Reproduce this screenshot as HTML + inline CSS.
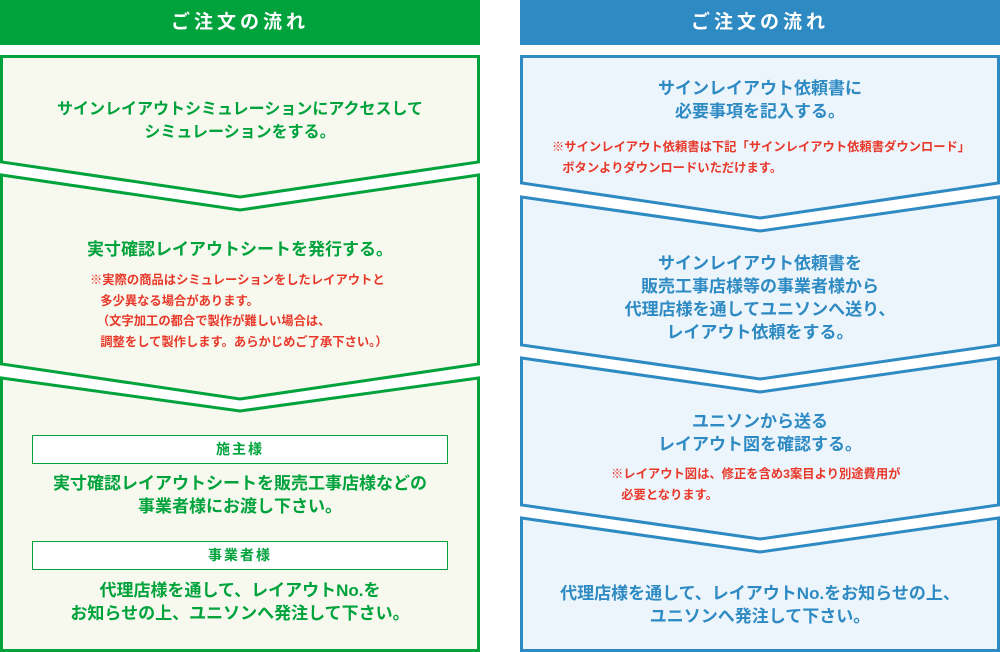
<!DOCTYPE html>
<html><head><meta charset="utf-8"><style>
body{margin:0;width:1000px;height:652px;position:relative;background:#fff;overflow:hidden;font-family:"Liberation Sans","Noto Sans CJK JP",sans-serif;font-weight:bold}
.t{position:absolute;white-space:nowrap;font-size:17px;line-height:23px;text-align:center}
.g{color:#00a23c;left:0;width:480px}
.b{color:#2e8ac2;left:520px;width:480px}
.n{position:absolute;white-space:nowrap;font-size:12.3px;line-height:20.5px;color:#e8382a}
.h{position:absolute;top:0;height:45px;width:480px;color:#fff;font-size:19px;line-height:45px;text-align:center;letter-spacing:4px}
.lab{position:absolute;left:32px;width:414px;height:27px;border:1.5px solid #00a23c;background:#fff;color:#00a23c;font-size:14px;line-height:27px;text-align:center;letter-spacing:2px}
</style></head><body>
<svg width="1000" height="652" style="position:absolute;left:0;top:0">
<g stroke="#00a23c" stroke-width="3" fill="#f7f9ee">
<polygon points="1.5,56.5 478.5,56.5 478.5,162 240,197 1.5,162"/>
<polygon points="1.5,175 240,210 478.5,175 478.5,364 240,399 1.5,364"/>
<polygon points="1.5,378 240,411 478.5,378 478.5,650.5 1.5,650.5"/>
</g>
<g stroke="#2e8ac2" stroke-width="3" fill="#edf5fc">
<polygon points="521.5,56.5 998.5,56.5 998.5,183 760,218 521.5,183"/>
<polygon points="521.5,197 760,231 998.5,197 998.5,345 760,379 521.5,345"/>
<polygon points="521.5,358 760,392 998.5,358 998.5,505 760,539 521.5,505"/>
<polygon points="521.5,518 760,552 998.5,518 998.5,650.5 521.5,650.5"/>
</g>
</svg>
<div class="h" style="left:0;background:#00a23c">ご注文の流れ</div>
<div class="h" style="left:520px;background:#2e8ac2">ご注文の流れ</div>

<div class="t g" style="top:98px;font-size:16px">サインレイアウトシミュレーションにアクセスして<br>シミュレーションをする。</div>
<div class="t g" style="top:238px">実寸確認レイアウトシートを発行する。</div>
<div class="n" style="left:90px;top:270px">※実際の商品はシミュレーションをしたレイアウトと<br>&nbsp;&nbsp;&nbsp;多少異なる場合があります。<br>&nbsp;&nbsp;（文字加工の都合で製作が難しい場合は、<br>&nbsp;&nbsp;&nbsp;調整をして製作します。あらかじめご了承下さい。）</div>
<div class="lab" style="top:435px">施主様</div>
<div class="t g" style="top:472px">実寸確認レイアウトシートを販売工事店様などの<br>事業者様にお渡し下さい。</div>
<div class="lab" style="top:541px">事業者様</div>
<div class="t g" style="top:579px">代理店様を通して、レイアウトNo.を<br>お知らせの上、ユニソンへ発注して下さい。</div>

<div class="t b" style="top:77px">サインレイアウト依頼書に<br>必要事項を記入する。</div>
<div class="n" style="left:552px;top:137px">※サインレイアウト依頼書は下記「サインレイアウト依頼書ダウンロード」<br>&nbsp;&nbsp;&nbsp;ボタンよりダウンロードいただけます。</div>
<div class="t b" style="top:252px">サインレイアウト依頼書を<br>販売工事店様等の事業者様から<br>代理店様を通してユニソンへ送り、<br>レイアウト依頼をする。</div>
<div class="t b" style="top:410px">ユニソンから送る<br>レイアウト図を確認する。</div>
<div class="n" style="left:611px;top:464px">※レイアウト図は、修正を含め3案目より別途費用が<br>&nbsp;&nbsp;&nbsp;必要となります。</div>
<div class="t b" style="top:582px">代理店様を通して、レイアウトNo.をお知らせの上、<br>ユニソンへ発注して下さい。</div>
</body></html>
